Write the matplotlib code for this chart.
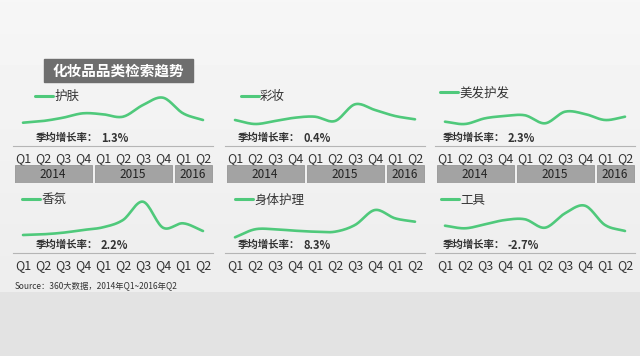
import numpy as np
import matplotlib
matplotlib.use("Agg")
import matplotlib.pyplot as plt
from matplotlib.patches import Rectangle

plt.rcParams['font.family'] = ['Noto Sans CJK SC', 'DejaVu Sans']

# 数据（从图上读出的相对检索指数）
quarters = ['Q1', 'Q2', 'Q3', 'Q4', 'Q1', 'Q2', 'Q3', 'Q4', 'Q1', 'Q2']
years = ['2014', '2015', '2016']
year_spans = [4, 4, 2]
categories = ['护肤', '彩妆', '美发护发', '香氛', '身体护理', '工具']
growth = ['1.3%', '0.4%', '2.3%', '2.2%', '8.3%', '-2.7%']

skincare = [7.3, 9.0, 12.3, 16.7, 15.7, 13.3, 25.0, 32.3, 16.7, 10.0]
makeup = [10.0, 6.0, 9.0, 12.3, 13.3, 9.0, 25.7, 20.0, 14.0, 10.7]
haircare = [8.3, 6.0, 11.7, 14.0, 14.7, 6.7, 18.3, 16.0, 10.0, 13.3]
fragrance = [2.0, 2.7, 4.3, 7.0, 9.7, 17.0, 35.3, 9.3, 13.7, 6.0]
bodycare = [-0.3, 7.7, 7.7, 6.3, 5.3, 5.3, 12.0, 27.0, 18.7, 15.3]
tools = [11.3, 8.7, 12.7, 17.0, 17.7, 9.3, 23.7, 31.3, 12.0, 6.0]
series = [skincare, makeup, haircare, fragrance, bodycare, tools]

GREEN = '#4fc97b'
W, H = 640, 356


def px_rect(x0, y0, x1, y1):
    return [x0 / W, 1 - y1 / H, (x1 - x0) / W, (y1 - y0) / H]


def smooth(vals, n=16):
    # Catmull-Rom 曲线，只用于画平滑线
    p = np.asarray(vals, float)
    pad = np.concatenate([[2 * p[0] - p[1]], p, [2 * p[-1] - p[-2]]])
    xs, ys = [], []
    t = np.linspace(0, 1, n, endpoint=False)
    for i in range(len(p) - 1):
        p0, p1, p2, p3 = pad[i:i + 4]
        y = 0.5 * (2 * p1 + (-p0 + p2) * t + (2 * p0 - 5 * p1 + 4 * p2 - p3) * t ** 2
                   + (-p0 + 3 * p1 - 3 * p2 + p3) * t ** 3)
        xs.append(i + t)
        ys.append(y)
    xs.append([len(p) - 1])
    ys.append([p[-1]])
    return np.concatenate(xs), np.concatenate(ys)


fig = plt.figure(figsize=(6.4, 3.56), dpi=100)

# 背景
bg = fig.add_axes([0, 0, 1, 1], zorder=-10)
grad = np.ones((H, 1))
rows = np.arange(H)
top = np.interp(rows, [0, 285], [0.965, 0.93])
grad[:, 0] = np.where(rows < 292, top, 0.888)
bg.imshow(grad, cmap='gray', vmin=0, vmax=1, aspect='auto', extent=[0, 1, 0, 1])
bg.axis('off')

# 标题
fig.add_artist(Rectangle((44 / W, 1 - 82 / H), 149 / W, 23 / H,
                         transform=fig.transFigure, color='#6e6e6e'))
fig.text(118.5 / W, 1 - 70.5 / H, '化妆品品类检索趋势', color='white',
         fontsize=10.5, fontweight='bold', ha='center', va='center')

col_left = [13, 225, 435]
row_sep = [146, 253]
legend_pos = [(0.11, 0.81), (0.078, 0.81), (0.025, 0.87),
              (0.045, 0.87), (0.05, 0.87), (0.03, 0.87)]
label_x = [0.115, 0.065, 0.04, 0.115, 0.065, 0.04]

for i, (name, vals) in enumerate(zip(categories, series)):
    r, c = divmod(i, 3)
    x0 = col_left[c]
    sep = row_sep[r]
    ax = fig.add_axes(px_rect(x0, sep - 61, x0 + 200, sep))
    ax.patch.set_alpha(0)
    sx, sy = smooth(vals)
    ax.plot(sx, sy, color=GREEN, lw=1.9, solid_capstyle='round', label=name)
    ax.set_xlim(-0.5, 9.5)
    ax.set_ylim(-16, 45)
    ax.set_yticks([])
    ax.set_xticks(range(len(quarters)), quarters)
    ax.tick_params(axis='x', length=0, pad=4, labelsize=9, labelcolor='#333333')
    for s in ['top', 'left', 'right']:
        ax.spines[s].set_visible(False)
    ax.spines['bottom'].set_color('#b5b5b5')
    ax.spines['bottom'].set_linewidth(0.8)

    lx, ly = legend_pos[i]
    ax.legend(loc='center left', bbox_to_anchor=(lx, ly), frameon=False,
              handlelength=1.45, handletextpad=0.1, borderpad=0, borderaxespad=0,
              fontsize=9, labelcolor='#333333')
    for line in ax.get_legend().get_lines():
        line.set_linewidth(2.2)

    ax.text(label_x[i], 0.13, '季均增长率：', transform=ax.transAxes,
            fontsize=7.5, fontweight='bold', color='#333333', va='center')
    ax.text(label_x[i] + 0.325, 0.13, growth[i], transform=ax.transAxes,
            fontsize=8, fontweight='bold', color='#333333', va='center')

    if r == 0:
        ay = fig.add_axes(px_rect(x0, 165, x0 + 200, 183))
        edges = np.cumsum([0] + year_spans) - 0.5
        centers = (edges[:-1] + edges[1:]) / 2
        widths = np.array(year_spans) - 0.15
        ay.bar(centers, 1, width=widths, bottom=0, color='#a3a3a3',
               edgecolor='#8c8c8c', linewidth=0.5)
        for cx, yr in zip(centers, years):
            ay.text(cx, 0.5, yr, ha='center', va='center', fontsize=8.5, color='#222222')
        ay.set_xlim(-0.5, 9.5)
        ay.set_ylim(0, 1)
        ay.axis('off')

fig.text(15 / W, 1 - 286 / H, 'Source：360大数据，2014年Q1~2016年Q2',
         fontsize=6, color='#333333', va='center')

fig.savefig('out.png', dpi=100)
